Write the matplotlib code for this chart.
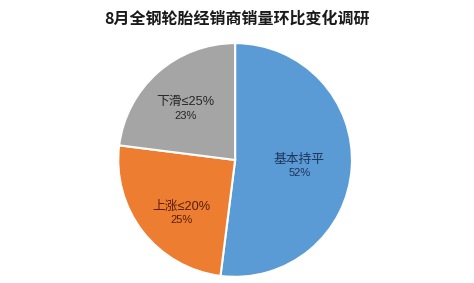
import numpy as np
import matplotlib
matplotlib.use('Agg')
import matplotlib.pyplot as plt

plt.rcParams['font.family'] = ['Noto Sans CJK SC', 'DejaVu Sans']

# Survey data
title = '8月全钢轮胎经销商销量环比变化调研'
categories = ['基本持平', '上涨≤20%', '下滑≤25%']
shares = [52, 25, 23]
colors = ['#5B9BD5', '#ED7D31', '#A5A5A5']
text_colors = ['#1F3458', '#5A1E08', '#262626']
label_radius = [0.55, 0.65, 0.64]
label_nudge = [(0, -2.2), (4.3, -5.8), (0, -4.3)]  # points

fig = plt.figure(figsize=(4.74, 2.83), dpi=100)
fig.patch.set_facecolor('white')
ax = fig.add_axes([0.247, 0.0177, 0.498, 0.834])

wedges, _ = ax.pie(shares, colors=colors, startangle=90, counterclock=False,
                   wedgeprops=dict(edgecolor='white', linewidth=1.5))
ax.set_aspect('equal')
ax.set_xlim(-1.01, 1.01)
ax.set_ylim(-1.01, 1.01)

label_font = ['Liberation Sans', 'Noto Sans CJK SC', 'DejaVu Sans']

# Put the category name and the share inside each wedge
for w, name, val, tc, r, (nx, ny) in zip(wedges, categories, shares, text_colors,
                                         label_radius, label_nudge):
    mid = np.deg2rad((w.theta1 + w.theta2) / 2)
    x, y = r * np.cos(mid), r * np.sin(mid)
    ax.annotate(name, (x, y), xytext=(nx, ny + 1), textcoords='offset points',
                ha='center', va='bottom', fontsize=9.2, color=tc, family=label_font)
    ax.annotate(f'{val}%', (x, y), xytext=(nx, ny - 0.6), textcoords='offset points',
                ha='center', va='top', fontsize=8, color=tc, family=label_font)

fig.text(0.5, 0.935, title, ha='center', va='center', fontsize=11.5,
         fontweight='bold', color='#1a1a1a')

fig.savefig('out.png', dpi=100)
